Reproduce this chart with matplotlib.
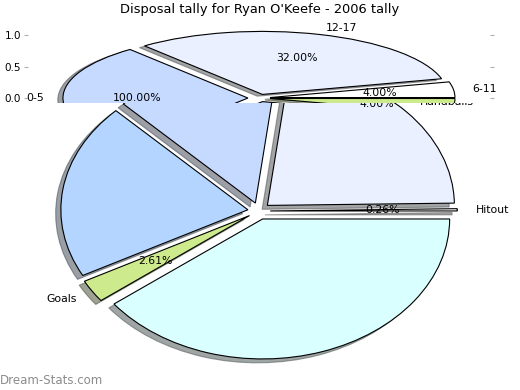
import matplotlib
matplotlib.use("Agg")
import matplotlib.pyplot as plt

# ---- data ----
title = "Disposal tally for Ryan O'Keefe - 2006 tally"

upper_labels = ["6-11", "12-17", "0-5", "", ""]
upper_values = [4, 32, 28, 32, 4]
upper_pct = ["4.00%", "32.00%", "100.00%", "", ""]

lower_labels = ["Hitout", "Handballs", "", "", "Goals", ""]
lower_values = [0.26, 22.8, 14.4, 20.3, 2.61, 39.6]
lower_pct = ["0.26%", "", "", "", "2.61%", ""]

colors = ["#ffffff", "#eaf0ff", "#c6d9ff", "#b3d5ff", "#cdea8c", "#d9ffff"]
yticks = [0.0, 0.5, 1.0]

W, H = 520, 390
fig = plt.figure(figsize=(W / 100, H / 100), dpi=100)

def px_axes(left, top, right, bottom):
    return fig.add_axes([left / W, 1 - bottom / H, (right - left) / W, (bottom - top) / H])

wedge_kw = {"edgecolor": "black", "linewidth": 0.8}
text_kw = {"fontsize": 7.8}

# ---- lower (full) pie ----
lo = px_axes(28, 60, 490, 385)
_, _, auto = lo.pie(lower_values, labels=lower_labels, colors=colors,
                    explode=[0.06] * len(lower_values), shadow=True,
                    autopct=lambda p: "", pctdistance=0.6, labeldistance=1.1,
                    wedgeprops=wedge_kw, textprops=text_kw)
for t, s in zip(auto, lower_pct):
    t.set_text(s)
lo.text(0.63, 0.765, "4.00%", ha="center", va="center", fontsize=7.8)
lo.set_aspect("auto")
lo.set_xlim(-1.235, 1.235)
lo.set_ylim(-1.243, 1.079)

# ---- upper (clipped) pie, drawn on top ----
up = px_axes(28, 24, 490, 103)
up.set_zorder(2)
_, _, auto = up.pie(upper_values, labels=upper_labels, colors=colors[:5],
                    explode=[0.06] * len(upper_values), shadow=True,
                    autopct=lambda p: "", pctdistance=0.6, labeldistance=1.1,
                    wedgeprops=wedge_kw, textprops=text_kw)
for t, s in zip(auto, upper_pct):
    t.set_text(s)
# the wedges get cut off at the bottom of this axes
for p in up.patches:
    p.set_clip_on(True)
    p.set_clip_path(up.patch)
up.set_aspect("auto")
up.set_xlim(-1.249, 1.249)
up.set_ylim(-0.079, 1.1746)
up.set_frame_on(True)
for s in up.spines.values():
    s.set_visible(False)
up.patch.set_facecolor("white")
up.set_xticks([])
up.set_yticks(yticks)
up.tick_params(axis="y", left=True, right=True, labelleft=True, labelright=False,
               color="#b0b0b0", length=3, labelsize=7.5, pad=2)

fig.text(0.5, 1 - 10 / H, title, ha="center", va="center", fontsize=9.4)
fig.text(0.0, 1 - 380 / H, "Dream-Stats.com", ha="left", va="center",
         fontsize=8.5, color="#8c8c8c")

fig.savefig("out.png", dpi=100)
